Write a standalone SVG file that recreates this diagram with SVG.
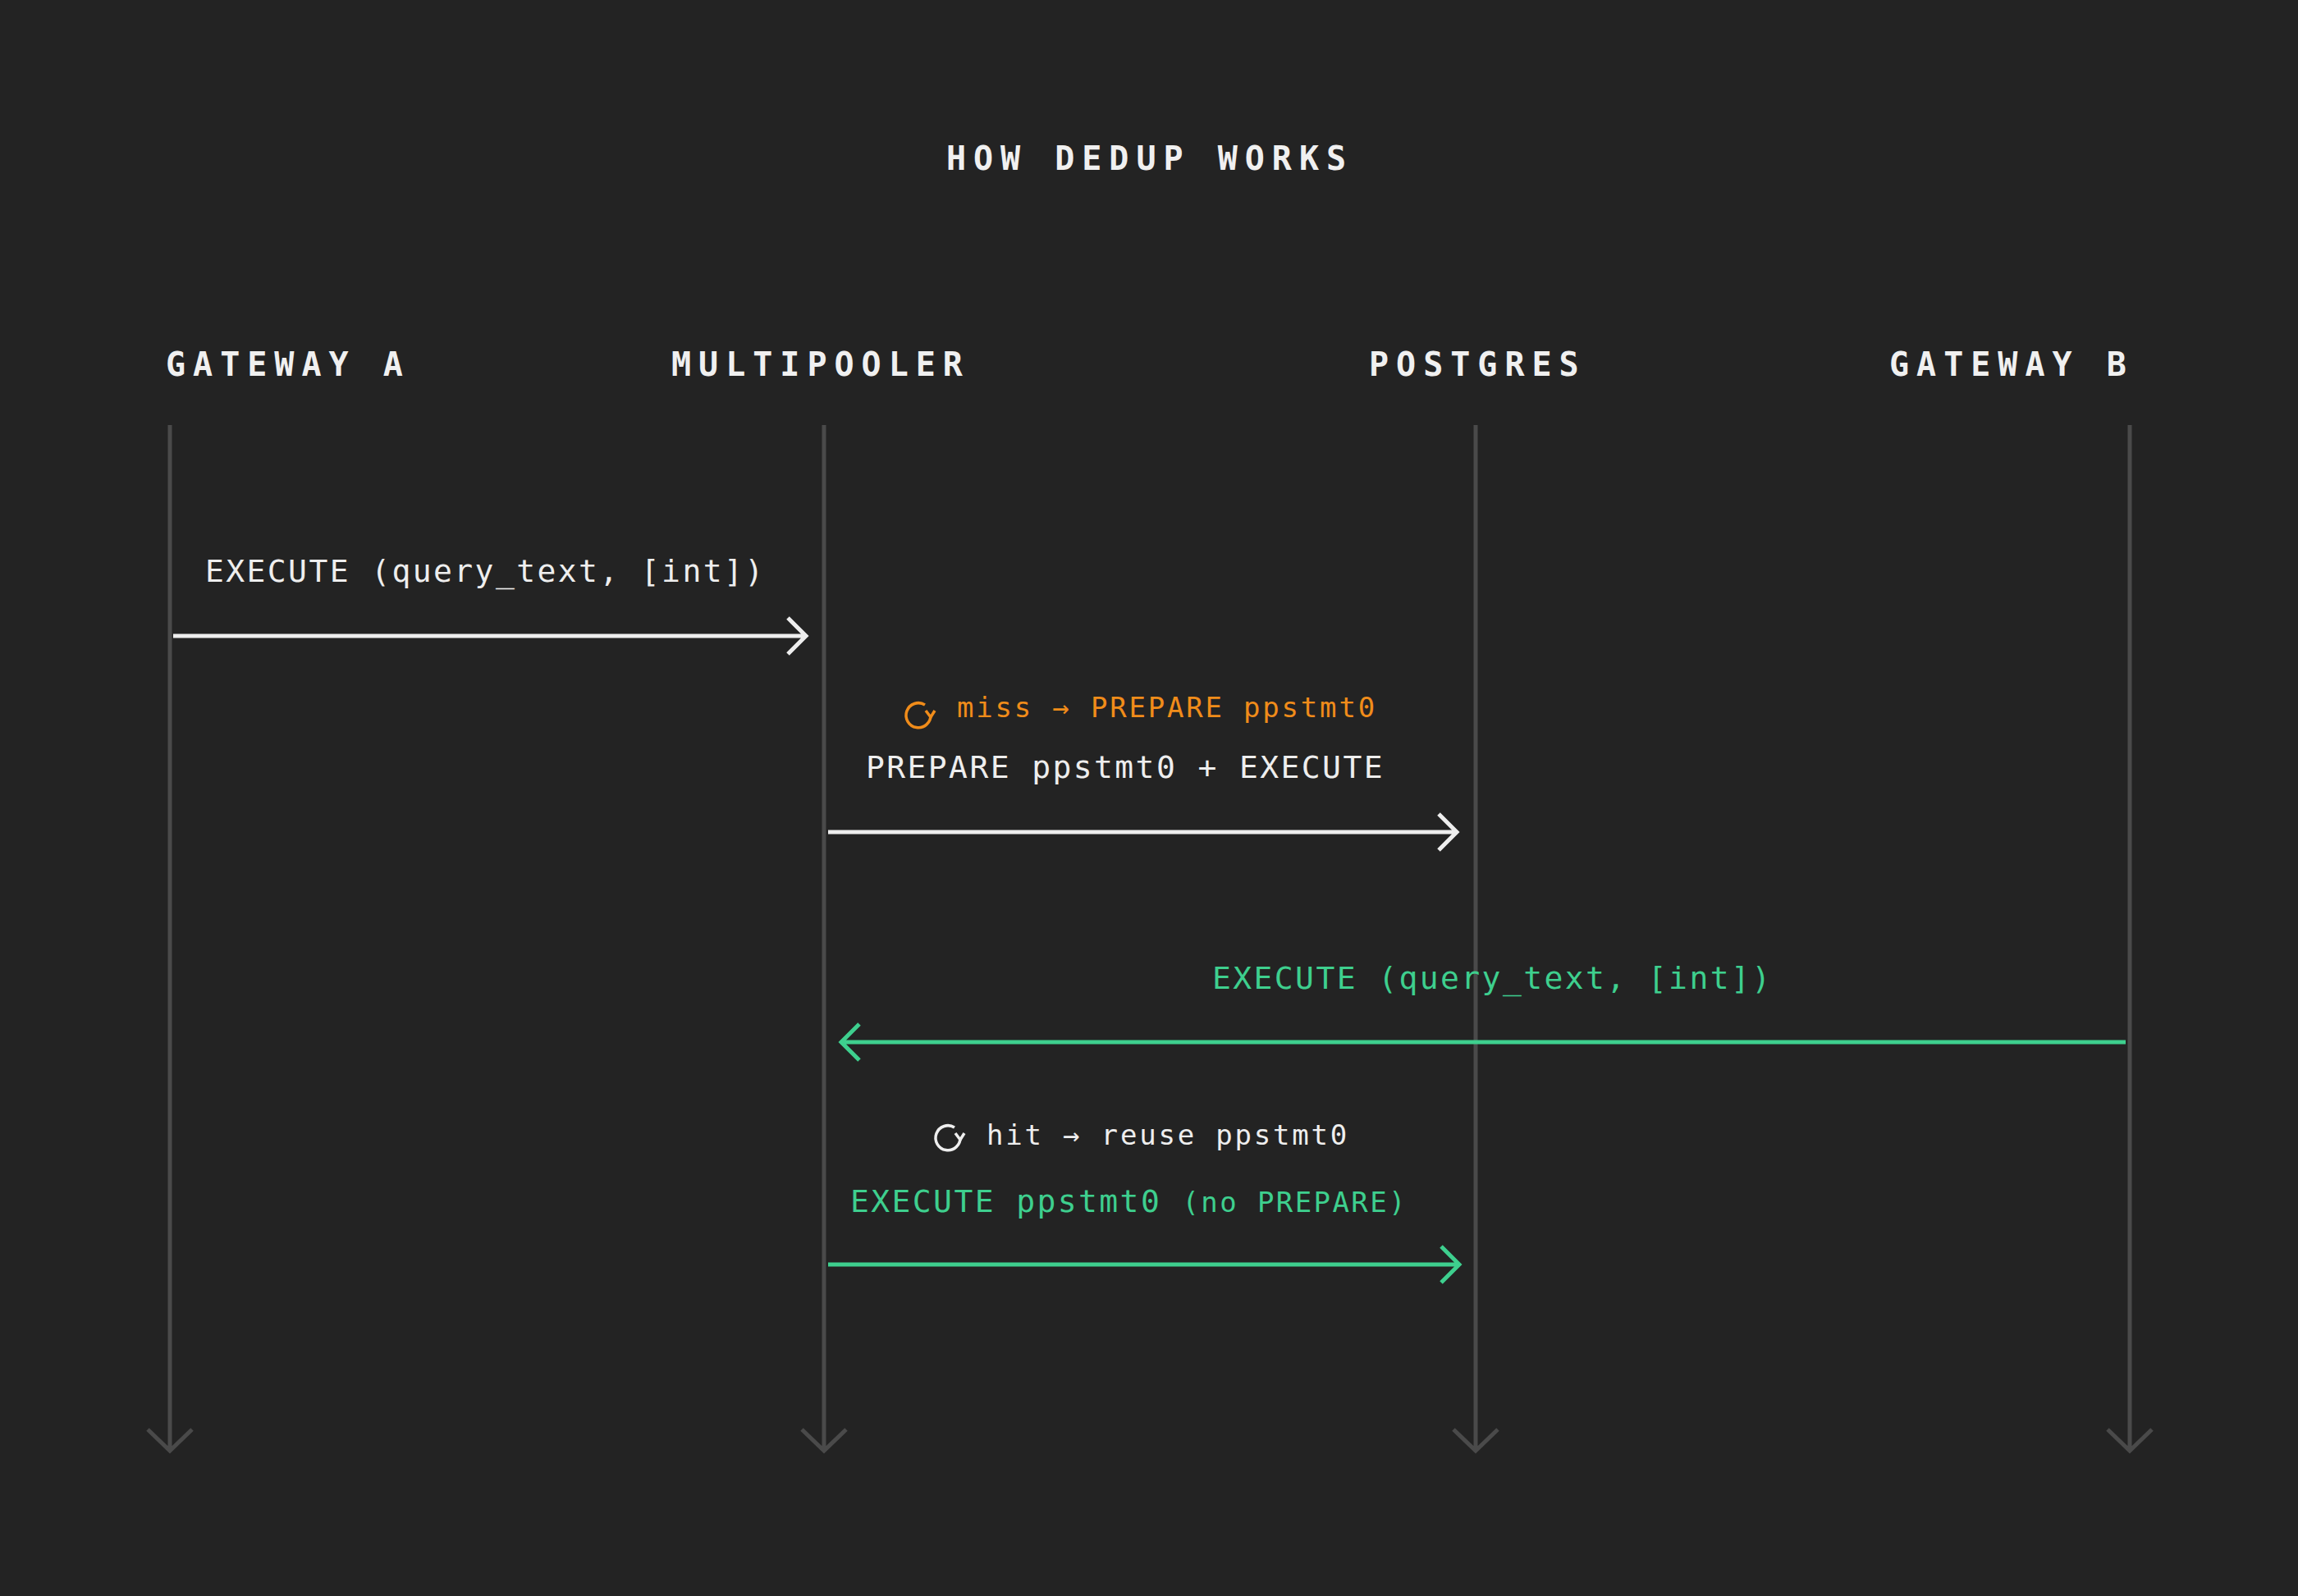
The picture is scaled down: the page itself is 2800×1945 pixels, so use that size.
<svg xmlns="http://www.w3.org/2000/svg" width="2800" height="1945" viewBox="0 0 2800 1945">
<style>
.t{font-family:"DejaVu Sans Mono","Liberation Mono",monospace}
.h{font-size:40px;font-weight:bold;fill:#f0f0f0;letter-spacing:9px}
.m{font-size:38px;letter-spacing:2.4px}
.s{font-size:34px;letter-spacing:2.8px}
.life{stroke:#4a4a4a;stroke-width:5;fill:none}
.w{stroke:#eeeeee;stroke-width:5;fill:none}
.g{stroke:#3ecf8e;stroke-width:5;fill:none}
</style>
<rect width="2800" height="1945" fill="#232323"/>
<text class="t h" x="1401" y="207" text-anchor="middle">HOW DEDUP WORKS</text>
<g id="gatewayA"><text class="t h" x="202" y="458">GATEWAY A</text><path class="life" d="M207 518V1768M180 1742L207 1768L234 1742"/></g>
<g id="multipooler"><text class="t h" x="818" y="458">MULTIPOOLER</text><path class="life" d="M1004 518V1768M977 1742L1004 1768L1031 1742"/></g>
<g id="postgres"><text class="t h" x="1668" y="458">POSTGRES</text><path class="life" d="M1798 518V1768M1771 1742L1798 1768L1825 1742"/></g>
<g id="gatewayB"><text class="t h" x="2302" y="458">GATEWAY B</text><path class="life" d="M2595 518V1768M2568 1742L2595 1768L2622 1742"/></g>
<g id="connectors">
<path class="w" d="M211 775H982M960 753L982 775L960 797"/>
<text class="t m" x="250" y="709" fill="#eeeeee">EXECUTE (query_text, [int])</text>
<path d="M1127 859a15 15 0 1 0 7 12" fill="none" stroke="#f08c1a" stroke-width="3.5"/><path d="M1128 866l6 8 5-8" fill="none" stroke="#f08c1a" stroke-width="3.5"/>
<text class="t s" x="1166" y="874" fill="#f08c1a">miss → PREPARE ppstmt0</text>
<text class="t m" x="1055" y="948" fill="#eeeeee">PREPARE ppstmt0 + EXECUTE</text>
<path class="w" d="M1009 1014H1775M1753 992L1775 1014L1753 1036"/>
<text class="t m" x="1477" y="1205" fill="#3ecf8e">EXECUTE (query_text, [int])</text>
<path class="g" d="M2590 1270H1025M1047 1248L1025 1270L1047 1292"/>
<path d="M1163 1374a15 15 0 1 0 7 12" fill="none" stroke="#eeeeee" stroke-width="3.5"/><path d="M1164 1381l6 8 5-8" fill="none" stroke="#eeeeee" stroke-width="3.5"/>
<text class="t s" x="1202" y="1395" fill="#eeeeee">hit → reuse ppstmt0</text>
<text class="t m" x="1036" y="1477" fill="#3ecf8e">EXECUTE ppstmt0 <tspan font-size="34">(no PREPARE)</tspan></text>
<path class="g" d="M1009 1541H1778M1756 1519L1778 1541L1756 1563"/>
</g>
</svg>
